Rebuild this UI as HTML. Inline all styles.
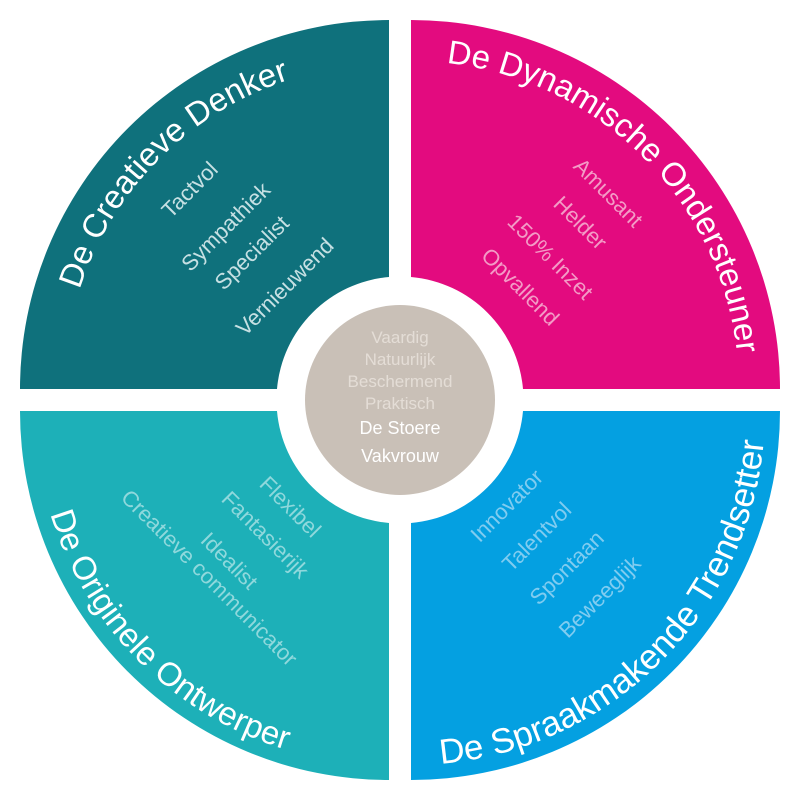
<!DOCTYPE html>
<html><head><meta charset="utf-8"><style>
html,body{margin:0;padding:0;background:#fff;}
svg{display:block;font-family:"Liberation Sans",sans-serif;}
</style></head><body>
<svg width="800" height="800" viewBox="0 0 800 800">
<defs>
<path id="ptl" d="M 64,389 A 325 325 0 0 1 389,64"/>
<path id="ptr" d="M 411,61 A 328 328 0 0 1 739,389"/>
<path id="pbr" d="M 411,765 A 354 354 0 0 0 765,411"/>
<path id="pbl" d="M 35,411 A 354 354 0 0 0 389,765"/>
</defs>
<path d="M389,20 A369 369 0 0 0 20,389 L277,389 A123 123 0 0 1 389,277 Z" fill="#0f717c"/>
<path d="M411,20 A369 369 0 0 1 780,389 L523,389 A123 123 0 0 0 411,277 Z" fill="#e30b7f"/>
<path d="M389,780 A369 369 0 0 1 20,411 L277,411 A123 123 0 0 0 389,523 Z" fill="#1db0b8"/>
<path d="M411,780 A369 369 0 0 0 780,411 L523,411 A123 123 0 0 1 411,523 Z" fill="#04a0e1"/>
<circle cx="400" cy="400" r="95" fill="#c9c0b7"/>

<g font-size="33" fill="#fff">
<text><textPath href="#ptl" startOffset="50%" text-anchor="middle">De Creatieve Denker</textPath></text>
<text><textPath href="#ptr" startOffset="50%" text-anchor="middle">De Dynamische Ondersteuner</textPath></text>
<text font-size="35"><textPath href="#pbr" startOffset="50%" text-anchor="middle">De Spraakmakende Trendsetter</textPath></text>
<text><textPath href="#pbl" startOffset="50%" text-anchor="middle">De Originele Ontwerper</textPath></text>
</g>

<g font-size="22" fill="#c6e0e3" text-anchor="middle">
<text transform="translate(195,195) rotate(-45)">Tactvol</text>
<text transform="translate(231,232) rotate(-45)">Sympathiek</text>
<text transform="translate(257,258) rotate(-45)">Specialist</text>
<text transform="translate(290,292) rotate(-45)">Vernieuwend</text>
</g>
<g font-size="22" fill="#f39bc6" text-anchor="middle">
<text transform="translate(603,198) rotate(45)">Amusant</text>
<text transform="translate(575,228) rotate(45)">Helder</text>
<text transform="translate(545,262) rotate(45)">150% Inzet</text>
<text transform="translate(515,292) rotate(45)">Opvallend</text>
</g>
<g font-size="22" fill="#8fd8dc" text-anchor="middle">
<text transform="translate(285,512) rotate(45)">Flexibel</text>
<text transform="translate(260,540) rotate(45)">Fantasierijk</text>
<text transform="translate(224,566) rotate(45)">Idealist</text>
<text transform="translate(204,583) rotate(45)">Creatieve communicator</text>
</g>
<g font-size="22" fill="#80ccf0" text-anchor="middle">
<text transform="translate(512,511) rotate(-45)">Innovator</text>
<text transform="translate(542,542) rotate(-45)">Talentvol</text>
<text transform="translate(572,573) rotate(-45)">Spontaan</text>
<text transform="translate(605,602) rotate(-45)">Beweeglijk</text>
</g>

<g text-anchor="middle">
<text x="400" y="343" font-size="17" fill="#e4ddd6">Vaardig</text>
<text x="400" y="365" font-size="17" fill="#e4ddd6">Natuurlijk</text>
<text x="400" y="387" font-size="17" fill="#e4ddd6">Beschermend</text>
<text x="400" y="409" font-size="17" fill="#e4ddd6">Praktisch</text>
<text x="400" y="434" font-size="18" fill="#fff">De Stoere</text>
<text x="400" y="462" font-size="18" fill="#fff">Vakvrouw</text>
</g>
</svg>
</body></html>
